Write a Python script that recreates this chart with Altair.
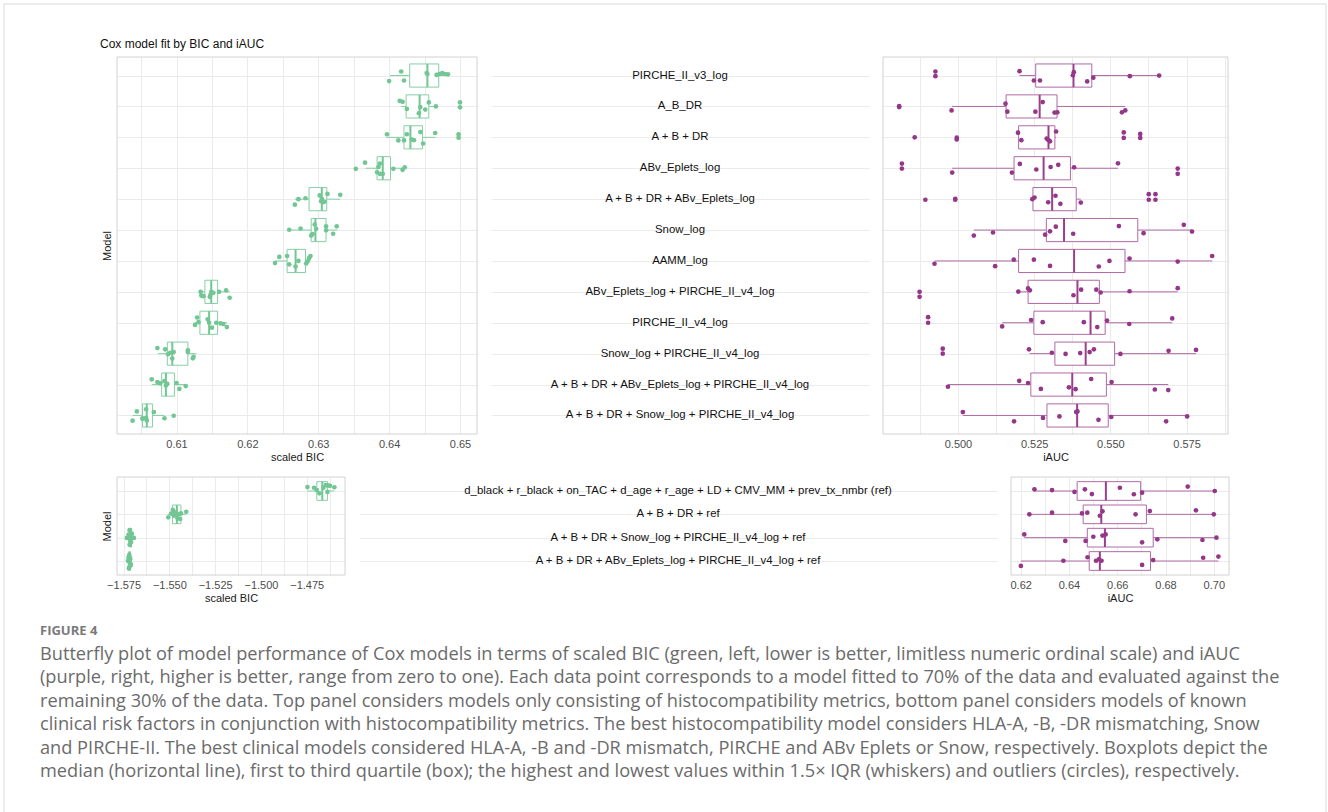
import altair as alt
import pandas as pd

# ---------------------------------------------------------------- models
TOP_MODELS = [
    "PIRCHE_II_v3_log",
    "A_B_DR",
    "A + B + DR",
    "ABv_Eplets_log",
    "A + B + DR + ABv_Eplets_log",
    "Snow_log",
    "AAMM_log",
    "ABv_Eplets_log + PIRCHE_II_v4_log",
    "PIRCHE_II_v4_log",
    "Snow_log + PIRCHE_II_v4_log",
    "A + B + DR + ABv_Eplets_log + PIRCHE_II_v4_log",
    "A + B + DR + Snow_log + PIRCHE_II_v4_log",
]
BOTTOM_MODELS = [
    "d_black + r_black + on_TAC + d_age + r_age + LD + CMV_MM + prev_tx_nmbr (ref)",
    "A + B + DR + ref",
    "A + B + DR + Snow_log + PIRCHE_II_v4_log + ref",
    "A + B + DR + ABv_Eplets_log + PIRCHE_II_v4_log + ref",
]

# ------------------------------------------------ top panel: scaled BIC
TOP_BIC = [
    [0.6417, 0.6400, 0.6421, 0.6453, 0.6454, 0.6467, 0.6471, 0.6475, 0.6479, 0.6483],
    [0.6415, 0.6419, 0.6425, 0.6442, 0.6444, 0.6451, 0.6456, 0.6466, 0.6500, 0.6500],
    [0.6397, 0.6413, 0.6421, 0.6425, 0.6432, 0.6435, 0.6444, 0.6448, 0.6465, 0.6498, 0.6498],
    [0.6353, 0.6366, 0.6383, 0.6385, 0.6387, 0.6387, 0.6391, 0.6406, 0.6419, 0.6422],
    [0.6267, 0.6272, 0.6282, 0.6302, 0.6304, 0.6305, 0.6307, 0.6309, 0.6313, 0.6331],
    [0.6259, 0.6275, 0.6290, 0.6292, 0.6295, 0.6297, 0.6311, 0.6311, 0.6321, 0.6326],
    [0.6239, 0.6245, 0.6256, 0.6259, 0.6268, 0.6272, 0.6283, 0.6285, 0.6287, 0.6289],
    [0.6134, 0.6135, 0.6138, 0.6147, 0.6148, 0.6149, 0.6152, 0.6160, 0.6170, 0.6175],
    [0.6126, 0.6129, 0.6131, 0.6144, 0.6146, 0.6150, 0.6156, 0.6162, 0.6166, 0.6171],
    [0.6073, 0.6084, 0.6088, 0.6091, 0.6094, 0.6096, 0.6116, 0.6116, 0.6123, 0.6124],
    [0.6065, 0.6073, 0.6077, 0.6083, 0.6085, 0.6087, 0.6100, 0.6104, 0.6113],
    [0.6038, 0.6044, 0.6052, 0.6052, 0.6057, 0.6058, 0.6057, 0.6068, 0.6083, 0.6096],
]
TOP_BIC_JITTER = [
    [-0.13, 0.18, 0.16, -0.08, -0.05, -0.02, -0.05, -0.08, -0.05, -0.04],
    [-0.18, -0.15, 0.08, 0.22, 0.02, 0.10, -0.13, 0.00, -0.13, 0.03],
    [-0.10, 0.10, 0.10, -0.10, 0.07, 0.09, -0.17, 0.20, -0.14, -0.10, 0.01],
    [0.02, -0.18, 0.13, -0.04, -0.15, 0.18, 0.18, 0.02, 0.05, -0.03],
    [0.18, 0.00, -0.03, -0.12, 0.07, -0.01, 0.10, 0.08, -0.17, -0.14],
    [-0.01, -0.05, 0.18, 0.13, -0.18, -0.04, -0.12, 0.01, 0.12, -0.12],
    [0.07, -0.13, -0.16, 0.11, 0.18, 0.00, 0.08, 0.01, -0.09, -0.16],
    [0.00, 0.12, 0.14, 0.16, 0.09, 0.00, 0.03, 0.00, -0.05, 0.19],
    [0.07, -0.17, -0.02, -0.11, 0.00, 0.16, 0.00, 0.02, 0.04, 0.14],
    [-0.18, -0.14, 0.02, -0.03, 0.16, -0.05, -0.11, -0.05, 0.15, 0.10],
    [-0.17, -0.08, -0.04, -0.11, 0.03, -0.02, -0.05, 0.14, 0.05],
    [0.17, -0.13, 0.09, 0.11, -0.20, 0.16, 0.08, -0.11, 0.09, 0.01],
]
# lower whisker, Q1, median, Q3, upper whisker
TOP_BIC_BOX = [
    (0.6401, 0.6429, 0.6454, 0.6470, 0.6483),
    (0.6417, 0.6424, 0.6443, 0.6456, 0.6467),
    (0.6396, 0.6421, 0.6430, 0.6447, 0.6465),
    (0.6367, 0.6383, 0.6391, 0.6402, 0.6422),
    (0.6267, 0.6287, 0.6305, 0.6312, 0.6331),
    (0.6259, 0.6290, 0.6296, 0.6311, 0.6327),
    (0.6239, 0.6256, 0.6268, 0.6282, 0.6289),
    (0.6134, 0.6140, 0.6149, 0.6158, 0.6175),
    (0.6126, 0.6133, 0.6146, 0.6158, 0.6171),
    (0.6074, 0.6087, 0.6094, 0.6116, 0.6128),
    (0.6065, 0.6079, 0.6085, 0.6097, 0.6113),
    (0.6038, 0.6052, 0.6058, 0.6066, 0.6083),
]

# ------------------------------------------------------ top panel: iAUC
TOP_AUC = [
    [0.4926, 0.4926, 0.5202, 0.5249, 0.5269, 0.5377, 0.5380, 0.5424, 0.5444, 0.5564, 0.5660],
    [0.4807, 0.4807, 0.4979, 0.5156, 0.5162, 0.5254, 0.5278, 0.5317, 0.5326, 0.5538, 0.5549],
    [0.4858, 0.4996, 0.4996, 0.5197, 0.5208, 0.5291, 0.5297, 0.5302, 0.5322, 0.5544, 0.5544, 0.5598, 0.5598],
    [0.4816, 0.4816, 0.4981, 0.5177, 0.5203, 0.5257, 0.5304, 0.5329, 0.5381, 0.5525, 0.5721, 0.5721],
    [0.4893, 0.4991, 0.4991, 0.5244, 0.5251, 0.5296, 0.5320, 0.5336, 0.5403, 0.5626, 0.5626, 0.5648, 0.5648],
    [0.5052, 0.5115, 0.5286, 0.5302, 0.5321, 0.5378, 0.5528, 0.5609, 0.5741, 0.5768],
    [0.4923, 0.5122, 0.5183, 0.5249, 0.5302, 0.5462, 0.5497, 0.5563, 0.5721, 0.5834],
    [0.4874, 0.4874, 0.5198, 0.5230, 0.5236, 0.5379, 0.5404, 0.5454, 0.5468, 0.5563, 0.5721],
    [0.4902, 0.4902, 0.5145, 0.5240, 0.5278, 0.5413, 0.5457, 0.5489, 0.5562, 0.5703],
    [0.4950, 0.4950, 0.5233, 0.5308, 0.5353, 0.5401, 0.5432, 0.5446, 0.5533, 0.5691, 0.5781],
    [0.4967, 0.5201, 0.5230, 0.5272, 0.5364, 0.5386, 0.5437, 0.5504, 0.5646, 0.5690],
    [0.5016, 0.5184, 0.5279, 0.5333, 0.5388, 0.5392, 0.5461, 0.5503, 0.5683, 0.5752],
]
TOP_AUC_JITTER = [
    [-0.13, 0.02, -0.14, 0.16, 0.16, -0.01, -0.11, 0.19, 0.07, 0.02, 0.00],
    [-0.01, 0.02, 0.13, -0.09, 0.17, 0.17, -0.14, 0.20, 0.19, 0.19, 0.13],
    [0.00, 0.01, 0.07, -0.15, 0.09, 0.04, 0.09, 0.13, -0.19, -0.16, 0.02, -0.11, 0.02],
    [-0.15, 0.01, 0.14, 0.14, -0.14, 0.04, -0.04, -0.11, -0.03, -0.16, 0.01, 0.18],
    [0.02, -0.01, 0.02, 0.00, -0.05, 0.10, -0.11, 0.15, 0.11, -0.16, 0.02, -0.16, 0.02],
    [0.18, 0.08, 0.15, 0.04, -0.11, 0.12, -0.13, 0.10, -0.17, 0.05],
    [0.09, 0.17, -0.04, -0.04, 0.16, 0.18, 0.00, -0.08, 0.02, -0.16],
    [0.00, 0.16, -0.01, -0.11, -0.05, 0.11, -0.07, -0.07, 0.02, -0.02, -0.12],
    [-0.18, 0.00, 0.12, -0.09, -0.02, -0.02, 0.14, -0.07, 0.04, -0.14],
    [-0.16, 0.00, -0.14, -0.03, 0.01, -0.02, -0.05, -0.14, 0.01, -0.09, -0.12],
    [0.07, -0.12, -0.05, 0.14, 0.09, 0.15, -0.18, -0.08, 0.16, 0.18],
    [-0.11, 0.19, 0.08, 0.03, -0.11, -0.13, 0.14, 0.05, 0.19, 0.03],
]
TOP_AUC_BOX = [
    (0.5202, 0.5255, 0.5379, 0.5439, 0.5661),
    (0.4980, 0.5158, 0.5268, 0.5325, 0.5549),
    (0.5197, 0.5199, 0.5297, 0.5318, 0.5322),
    (0.4981, 0.5184, 0.5281, 0.5369, 0.5525),
    (0.5244, 0.5246, 0.5309, 0.5388, 0.5403),
    (0.5052, 0.5290, 0.5348, 0.5590, 0.5768),
    (0.4923, 0.5199, 0.5381, 0.5548, 0.5834),
    (0.5198, 0.5230, 0.5392, 0.5464, 0.5721),
    (0.5145, 0.5249, 0.5435, 0.5483, 0.5703),
    (0.5235, 0.5318, 0.5419, 0.5514, 0.5781),
    (0.4967, 0.5239, 0.5375, 0.5487, 0.5690),
    (0.5016, 0.5292, 0.5391, 0.5493, 0.5752),
]

# --------------------------------------------- bottom panel: scaled BIC
BOTTOM_BIC = [
    [-1.4746, -1.4710, -1.4695, -1.4681, -1.4659, -1.4646, -1.4637, -1.4635, -1.4623, -1.4599],
    [-1.5506, -1.5490, -1.5481, -1.5474, -1.5468, -1.5455, -1.5450, -1.5441, -1.5437, -1.5408],
    [-1.5732, -1.5723, -1.5717, -1.5714, -1.5710, -1.5705, -1.5700, -1.5694, -1.5717, -1.5712],
    [-1.5726, -1.5723, -1.5719, -1.5717, -1.5714, -1.5710, -1.5719, -1.5721, -1.5716, -1.5712],
]
BOTTOM_BIC_JITTER = [
    [-0.17, -0.14, -0.04, 0.10, -0.14, -0.25, 0.04, -0.24, -0.22, -0.16],
    [0.13, -0.03, -0.19, 0.06, -0.09, 0.17, 0.00, 0.20, -0.04, -0.11],
    [0.01, -0.13, -0.32, 0.12, 0.20, -0.17, 0.01, 0.01, 0.30, -0.06],
    [-0.01, -0.16, -0.26, 0.07, -0.07, 0.17, 0.27, 0.32, -0.16, 0.13],
]
BOTTOM_BIC_BOX = [
    (-1.4746, -1.4695, -1.4665, -1.4637, -1.4599),
    (-1.5506, -1.5483, -1.5459, -1.5437, -1.5408),
    (-1.5732, -1.5718, -1.5711, -1.5706, -1.5694),
    (-1.5726, -1.5721, -1.5717, -1.5714, -1.5710),
]

# --------------------------------------------------- bottom panel: iAUC
BOTTOM_AUC = [
    [0.6257, 0.6330, 0.6423, 0.6466, 0.6495, 0.6611, 0.6669, 0.6703, 0.6892, 0.7004],
    [0.6236, 0.6330, 0.6454, 0.6476, 0.6528, 0.6539, 0.6676, 0.6735, 0.6926, 0.7000],
    [0.6215, 0.6385, 0.6469, 0.6501, 0.6539, 0.6552, 0.6703, 0.6766, 0.6953, 0.7011],
    [0.6201, 0.6377, 0.6477, 0.6512, 0.6524, 0.6535, 0.6703, 0.6749, 0.6956, 0.7019],
]
BOTTOM_AUC_JITTER = [
    [-0.07, -0.04, 0.04, -0.07, 0.13, -0.14, 0.14, 0.07, -0.19, 0.00],
    [0.00, -0.07, -0.04, -0.07, 0.06, -0.13, 0.00, -0.14, -0.17, 0.00],
    [-0.14, 0.14, 0.14, -0.04, -0.09, -0.14, 0.20, 0.07, 0.10, 0.00],
    [0.21, -0.01, -0.16, -0.01, -0.07, -0.01, 0.17, -0.04, -0.14, -0.19],
]
BOTTOM_AUC_BOX = [
    (0.6257, 0.6434, 0.6553, 0.6697, 0.7004),
    (0.6236, 0.6459, 0.6534, 0.6721, 0.7000),
    (0.6215, 0.6476, 0.6549, 0.6749, 0.7011),
    (0.6201, 0.6484, 0.6528, 0.6738, 0.7019),
]

# ------------------------------------------------------- axis gridlines
TOP_BIC_GRID = [0.605, 0.61, 0.615, 0.62, 0.625, 0.63, 0.635, 0.64, 0.645, 0.65]
TOP_AUC_GRID = [0.4875, 0.5, 0.5125, 0.525, 0.5375, 0.55, 0.5625, 0.575, 0.5875]
BOTTOM_BIC_GRID = [-1.575, -1.5625, -1.55, -1.5375, -1.525, -1.5125, -1.5, -1.4875, -1.475, -1.4625]
BOTTOM_AUC_GRID = [0.62, 0.63, 0.64, 0.65, 0.66, 0.67, 0.68, 0.69, 0.70]

TITLE = "Cox model fit by BIC and iAUC"
FIGURE_LABEL = "FIGURE 4"
CAPTION = [
    "Butterfly plot of model performance of Cox models in terms of scaled BIC (green, left, lower is better, limitless numeric ordinal scale) and iAUC",
    "(purple, right, higher is better, range from zero to one). Each data point corresponds to a model fitted to 70% of the data and evaluated against the",
    "remaining 30% of the data. Top panel considers models only consisting of histocompatibility metrics, bottom panel considers models of known",
    "clinical risk factors in conjunction with histocompatibility metrics. The best histocompatibility model considers HLA-A, -B, -DR mismatching, Snow",
    "and PIRCHE-II. The best clinical models considered HLA-A, -B and -DR mismatch, PIRCHE and ABv Eplets or Snow, respectively. Boxplots depict the",
    "median (horizontal line), first to third quartile (box); the highest and lowest values within 1.5\u00d7 IQR (whiskers) and outliers (circles), respectively.",
]

# ----------------------------------------------------------------- style
FONT = "Liberation Sans"
CAPTION_FONT = "Open Sans"
GREEN = {"point": "#72c694", "box": "#86cfa5", "median": "#72c694"}
PURPLE = {"point": "#943789", "box": "#b06aa5", "median": "#9a3f8e"}
BORDER = "#d2d2d2"
GRID = "#ebebeb"

TOP_H, BOTTOM_H = 377, 98
GAP = 14
ROW_GAP = 420  # offset from the top row's plot origin to the bottom row's
anchor = pd.DataFrame({"k": [0]})


def points_frame(values, jitter):
    rows = []
    for i, (vals, jit) in enumerate(zip(values, jitter)):
        for v, j in zip(vals, jit):
            rows.append({"value": v, "row": i + j})
    return pd.DataFrame(rows)


def box_frame(stats, half):
    df = pd.DataFrame(stats, columns=["lo", "q1", "med", "q3", "hi"])
    df["row"] = range(len(df))
    df["top"] = df["row"] - half
    df["bottom"] = df["row"] + half
    return df


def y_scale(n):
    return alt.Scale(domain=[-0.6, n - 0.4], reverse=True, nice=False, zero=False)


def y_axis(n, title=None):
    return alt.Axis(values=list(range(n)), labels=False, ticks=False, domain=False,
                    grid=True, title=title, titlePadding=5, titleFontSize=11,
                    titleColor="#1a1a1a")


def panel(values, jitter, stats, n, domain, grid, label_expr, title, width, height,
          colors, half, y_title=None):
    pts = points_frame(values, jitter)
    boxes = box_frame(stats, half)
    xs = alt.Scale(domain=domain, nice=False, zero=False)
    xa = alt.Axis(values=grid, labelExpr=label_expr, title=title, grid=True, ticks=False,
                  domain=False, labelFlush=False, labelPadding=4, titlePadding=2)
    ys = y_scale(n)
    ya = y_axis(n, y_title)

    base = alt.Chart(boxes)
    whisker_lo = base.mark_rule(color=colors["box"], strokeWidth=1).encode(
        x=alt.X("lo:Q", scale=xs, axis=xa), x2="q1:Q",
        y=alt.Y("row:Q", scale=ys, axis=ya))
    whisker_hi = base.mark_rule(color=colors["box"], strokeWidth=1).encode(
        x=alt.X("q3:Q", scale=xs, axis=xa), x2="hi:Q",
        y=alt.Y("row:Q", scale=ys, axis=ya))
    box = base.mark_rect(fill="white", stroke=colors["box"], strokeWidth=1).encode(
        x=alt.X("q1:Q", scale=xs, axis=xa), x2="q3:Q",
        y=alt.Y("top:Q", scale=ys, axis=ya), y2="bottom:Q")
    median = base.mark_rule(color=colors["median"], strokeWidth=2).encode(
        x=alt.X("med:Q", scale=xs, axis=xa),
        y=alt.Y("top:Q", scale=ys, axis=ya), y2="bottom:Q")
    dots = alt.Chart(pts).mark_circle(size=22, opacity=1, color=colors["point"]).encode(
        x=alt.X("value:Q", scale=xs, axis=xa),
        y=alt.Y("row:Q", scale=ys, axis=ya))
    frame = alt.Chart(anchor).mark_rect(fillOpacity=0, stroke=BORDER, strokeWidth=1).encode(
        x=alt.value(0), x2=alt.value(width), y=alt.value(0), y2=alt.value(height))
    return [whisker_lo, whisker_hi, box, median, dots, frame]


def label_column(models, width, height):
    n = len(models)
    df = pd.DataFrame({"model": models, "row": range(n)})
    return alt.Chart(df).mark_text(font=FONT, fontSize=11.4, color="#111111").encode(
        x=alt.value(width / 2),
        y=alt.Y("row:Q", scale=y_scale(n), axis=y_axis(n)),
        text="model:N",
    ).properties(width=width, height=height)


# ------------------------------------------------------------- top row
TL_W, TR_W = 360, 345
TM_W = 883 - 477 - 2 * GAP

# page-level pieces, positioned relative to the top-left plot area
page = alt.Chart(anchor).mark_rect(fillOpacity=0, strokeOpacity=0).encode(
    x=alt.value(-117), x2=alt.value(1328 - 117), y=alt.value(-57), y2=alt.value(812 - 57))
edge_left = alt.Chart(anchor).mark_rule(color="#d9d9d9").encode(
    x=alt.value(-113), y=alt.value(-53), y2=alt.value(812 - 57))
edge_top = alt.Chart(anchor).mark_rule(color="#d9d9d9").encode(
    x=alt.value(-113), x2=alt.value(1209), y=alt.value(-53))
edge_right = alt.Chart(anchor).mark_rule(color="#d9d9d9").encode(
    x=alt.value(1209), y=alt.value(-53), y2=alt.value(812 - 57))
title = alt.Chart(anchor).mark_text(align="left", baseline="alphabetic", font=FONT,
                                    fontSize=12, color="#111111").encode(
    x=alt.value(-17), y=alt.value(-9), text=alt.value(TITLE))
fig_label = alt.Chart(anchor).mark_text(align="left", baseline="alphabetic",
                                        font=CAPTION_FONT, fontSize=13, fontWeight="bold",
                                        color="#7a7a7a").encode(
    x=alt.value(-77), y=alt.value(635 - 57), text=alt.value(FIGURE_LABEL))
caption = alt.Chart(anchor).mark_text(align="left", baseline="alphabetic",
                                      font=CAPTION_FONT, fontSize=18.2, lineHeight=23.4,
                                      color="#6b6b6b").encode(
    x=alt.value(-77), y=alt.value(660 - 57), text=alt.value(CAPTION))

top_left = alt.layer(
    page, edge_left, edge_top, edge_right, title, fig_label, caption,
    *panel(TOP_BIC, TOP_BIC_JITTER, TOP_BIC_BOX, 12, [0.6016, 0.6524], TOP_BIC_GRID,
           "round(datum.value*1000) % 10 == 0 ? format(datum.value, '.2f') : ''",
           "scaled BIC", TL_W, TOP_H, GREEN, 0.375, "Model"),
).properties(width=TL_W, height=TOP_H)

top_mid = label_column(TOP_MODELS, TM_W, TOP_H)

top_right = alt.layer(
    *panel(TOP_AUC, TOP_AUC_JITTER, TOP_AUC_BOX, 12, [0.4754, 0.5886], TOP_AUC_GRID,
           "round(datum.value*10000) % 250 == 0 ? format(datum.value, '.3f') : ''",
           "iAUC", TR_W, TOP_H, PURPLE, 0.375),
).properties(width=TR_W, height=TOP_H)

# ---------------------------------------------------------- bottom row
BL_W, BR_W = 228, 218
BM_W = 1011 - 345 - 2 * GAP

bottom_left = alt.layer(
    *panel(BOTTOM_BIC, BOTTOM_BIC_JITTER, BOTTOM_BIC_BOX, 4, [-1.5786, -1.4541],
           BOTTOM_BIC_GRID,
           "round(datum.value*10000) % 250 == 0 ? format(datum.value, '.3f') : ''",
           "scaled BIC", BL_W, BOTTOM_H, GREEN, 0.4, "Model"),
).properties(width=BL_W, height=BOTTOM_H)

bottom_mid = label_column(BOTTOM_MODELS, BM_W, BOTTOM_H)

bottom_right = alt.layer(
    *panel(BOTTOM_AUC, BOTTOM_AUC_JITTER, BOTTOM_AUC_BOX, 4, [0.616, 0.7063],
           BOTTOM_AUC_GRID,
           "round(datum.value*100) % 2 == 0 ? format(datum.value, '.2f') : ''",
           "iAUC", BR_W, BOTTOM_H, PURPLE, 0.4),
).properties(width=BR_W, height=BOTTOM_H)

top_row = alt.hconcat(top_left, top_mid, top_right, spacing=GAP, bounds="flush")
bottom_row = alt.hconcat(bottom_left, bottom_mid, bottom_right, spacing=GAP, bounds="flush")

chart = alt.vconcat(top_row, bottom_row, spacing=ROW_GAP, bounds="flush").properties(
    padding=0
).configure_view(
    stroke=None
).configure_axis(
    labelFont=FONT, titleFont=FONT, labelFontSize=11, titleFontSize=11,
    labelColor="#4d4d4d", titleColor="#1a1a1a", titleFontWeight="normal",
    gridColor=GRID, gridWidth=1,
)

chart.save("out.html", embed_options={"renderer": "svg", "actions": False})
